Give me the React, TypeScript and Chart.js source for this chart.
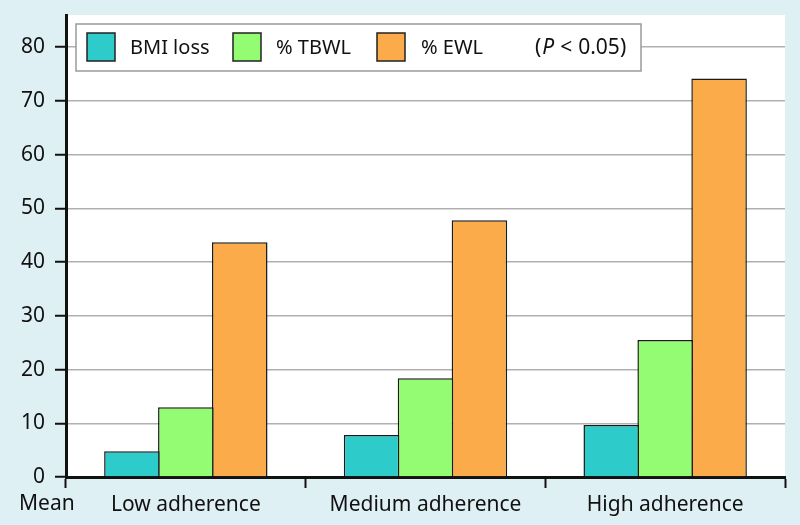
import React, { useEffect, useRef } from "react";
import { Chart, registerables } from "chart.js";

Chart.register(...registerables);

const categories = ["Low adherence", "Medium adherence", "High adherence"];
const bmiLoss = [4.8, 7.8, 9.7];
const tbwl = [13.0, 18.4, 25.5];
const ewl = [43.7, 47.8, 74.2];
const seriesNames = ["BMI loss", "% TBWL", "% EWL"];
const seriesColors = ["#2ecbcb", "#94fc72", "#fbab4a"];
const yTicks = [0, 10, 20, 30, 40, 50, 60, 70, 80];

const FONT = "'Noto Sans', 'Open Sans', sans-serif";
const BG = "#dff0f4";

const decorPlugin = {
  id: "decor",
  beforeDraw(chart: any) {
    const { ctx, chartArea } = chart;
    ctx.save();
    ctx.fillStyle = BG;
    ctx.fillRect(0, 0, chart.width, chart.height);
    ctx.fillStyle = "#ffffff";
    ctx.fillRect(chartArea.left, chartArea.top, chartArea.right - chartArea.left, chartArea.bottom - chartArea.top);
    ctx.restore();
  },
  afterDraw(chart: any) {
    const { ctx } = chart;
    ctx.save();
    // legend box
    ctx.fillStyle = "#ffffff";
    ctx.fillRect(76, 24, 565, 47);
    ctx.strokeStyle = "#9a9a9a";
    ctx.lineWidth = 1.5;
    ctx.strokeRect(76, 24, 565, 47);
    const sq = [87, 233, 377];
    const tx = [130, 276, 421];
    ctx.font = `20px ${FONT}`;
    ctx.textBaseline = "middle";
    for (let i = 0; i < 3; i++) {
      ctx.fillStyle = seriesColors[i];
      ctx.fillRect(sq[i], 33, 28, 28);
      ctx.strokeStyle = "#222";
      ctx.lineWidth = 1.5;
      ctx.strokeRect(sq[i], 33, 28, 28);
      ctx.fillStyle = "#111";
      ctx.fillText(seriesNames[i], tx[i], 48);
    }
    // (P < 0.05)
    let x = 535;
    ctx.fillStyle = "#111";
    ctx.font = `21px ${FONT}`;
    ctx.fillText("(", x, 48);
    x += ctx.measureText("(").width + 1;
    ctx.font = `italic 21px ${FONT}`;
    ctx.fillText("P", x, 48);
    x += ctx.measureText("P").width + 6;
    ctx.font = `21px ${FONT}`;
    ctx.fillText("<", x, 48);
    x += ctx.measureText("<").width + 6;
    ctx.fillText("0.05)", x, 48);
    // Mean label
    ctx.font = `21px ${FONT}`;
    ctx.fillText("Mean", 19, 504);
    ctx.restore();
  },
};

export default function App() {
  const ref = useRef<HTMLCanvasElement>(null);
  useEffect(() => {
    document.body.style.margin = "0";
    document.body.style.background = BG;
    const chart = new Chart(ref.current!, {
      type: "bar",
      data: {
        labels: categories,
        datasets: [bmiLoss, tbwl, ewl].map((d, i) => ({
          label: seriesNames[i],
          data: d,
          backgroundColor: seriesColors[i],
          borderColor: "#1a1a1a",
          borderWidth: 1.5,
          borderSkipped: "bottom",
          categoryPercentage: 0.675,
          barPercentage: 1.03,
        })),
      },
      options: {
        responsive: false,
        animation: false,
        layout: { padding: { top: 15, right: 15, left: 0, bottom: 0 } },
        plugins: { legend: { display: false }, tooltip: { enabled: false } },
        scales: {
          x: {
            offset: true,
            grid: {
              offset: true,
              drawOnChartArea: false,
              tickLength: 11,
              tickColor: "#111",
              tickWidth: 2,
            },
            border: { color: "#111", width: 3 },
            ticks: { color: "#111", font: { family: FONT, size: 21 }, padding: 4 },
            afterFit(s: any) {
              s.height = 48;
              s.paddingLeft = 0;
              s.paddingRight = 0;
            },
          },
          y: {
            min: 0,
            max: 86,
            afterBuildTicks(s: any) {
              s.ticks = yTicks.map((v) => ({ value: v }));
            },
            grid: {
              color: "#b0b0b0",
              lineWidth: 1.5,
              tickLength: 11,
              tickColor: "#111",
              tickWidth: 2,
            },
            border: { color: "#111", width: 3 },
            ticks: { color: "#111", font: { family: FONT, size: 21 }, padding: 10 },
            afterFit(s: any) {
              s.width = 66;
              s.paddingTop = 0;
              s.paddingBottom = 0;
            },
          },
        },
      },
      plugins: [decorPlugin],
    });
    return () => chart.destroy();
  }, []);
  return <canvas ref={ref} width={800} height={525} style={{ display: "block" }} />;
}
